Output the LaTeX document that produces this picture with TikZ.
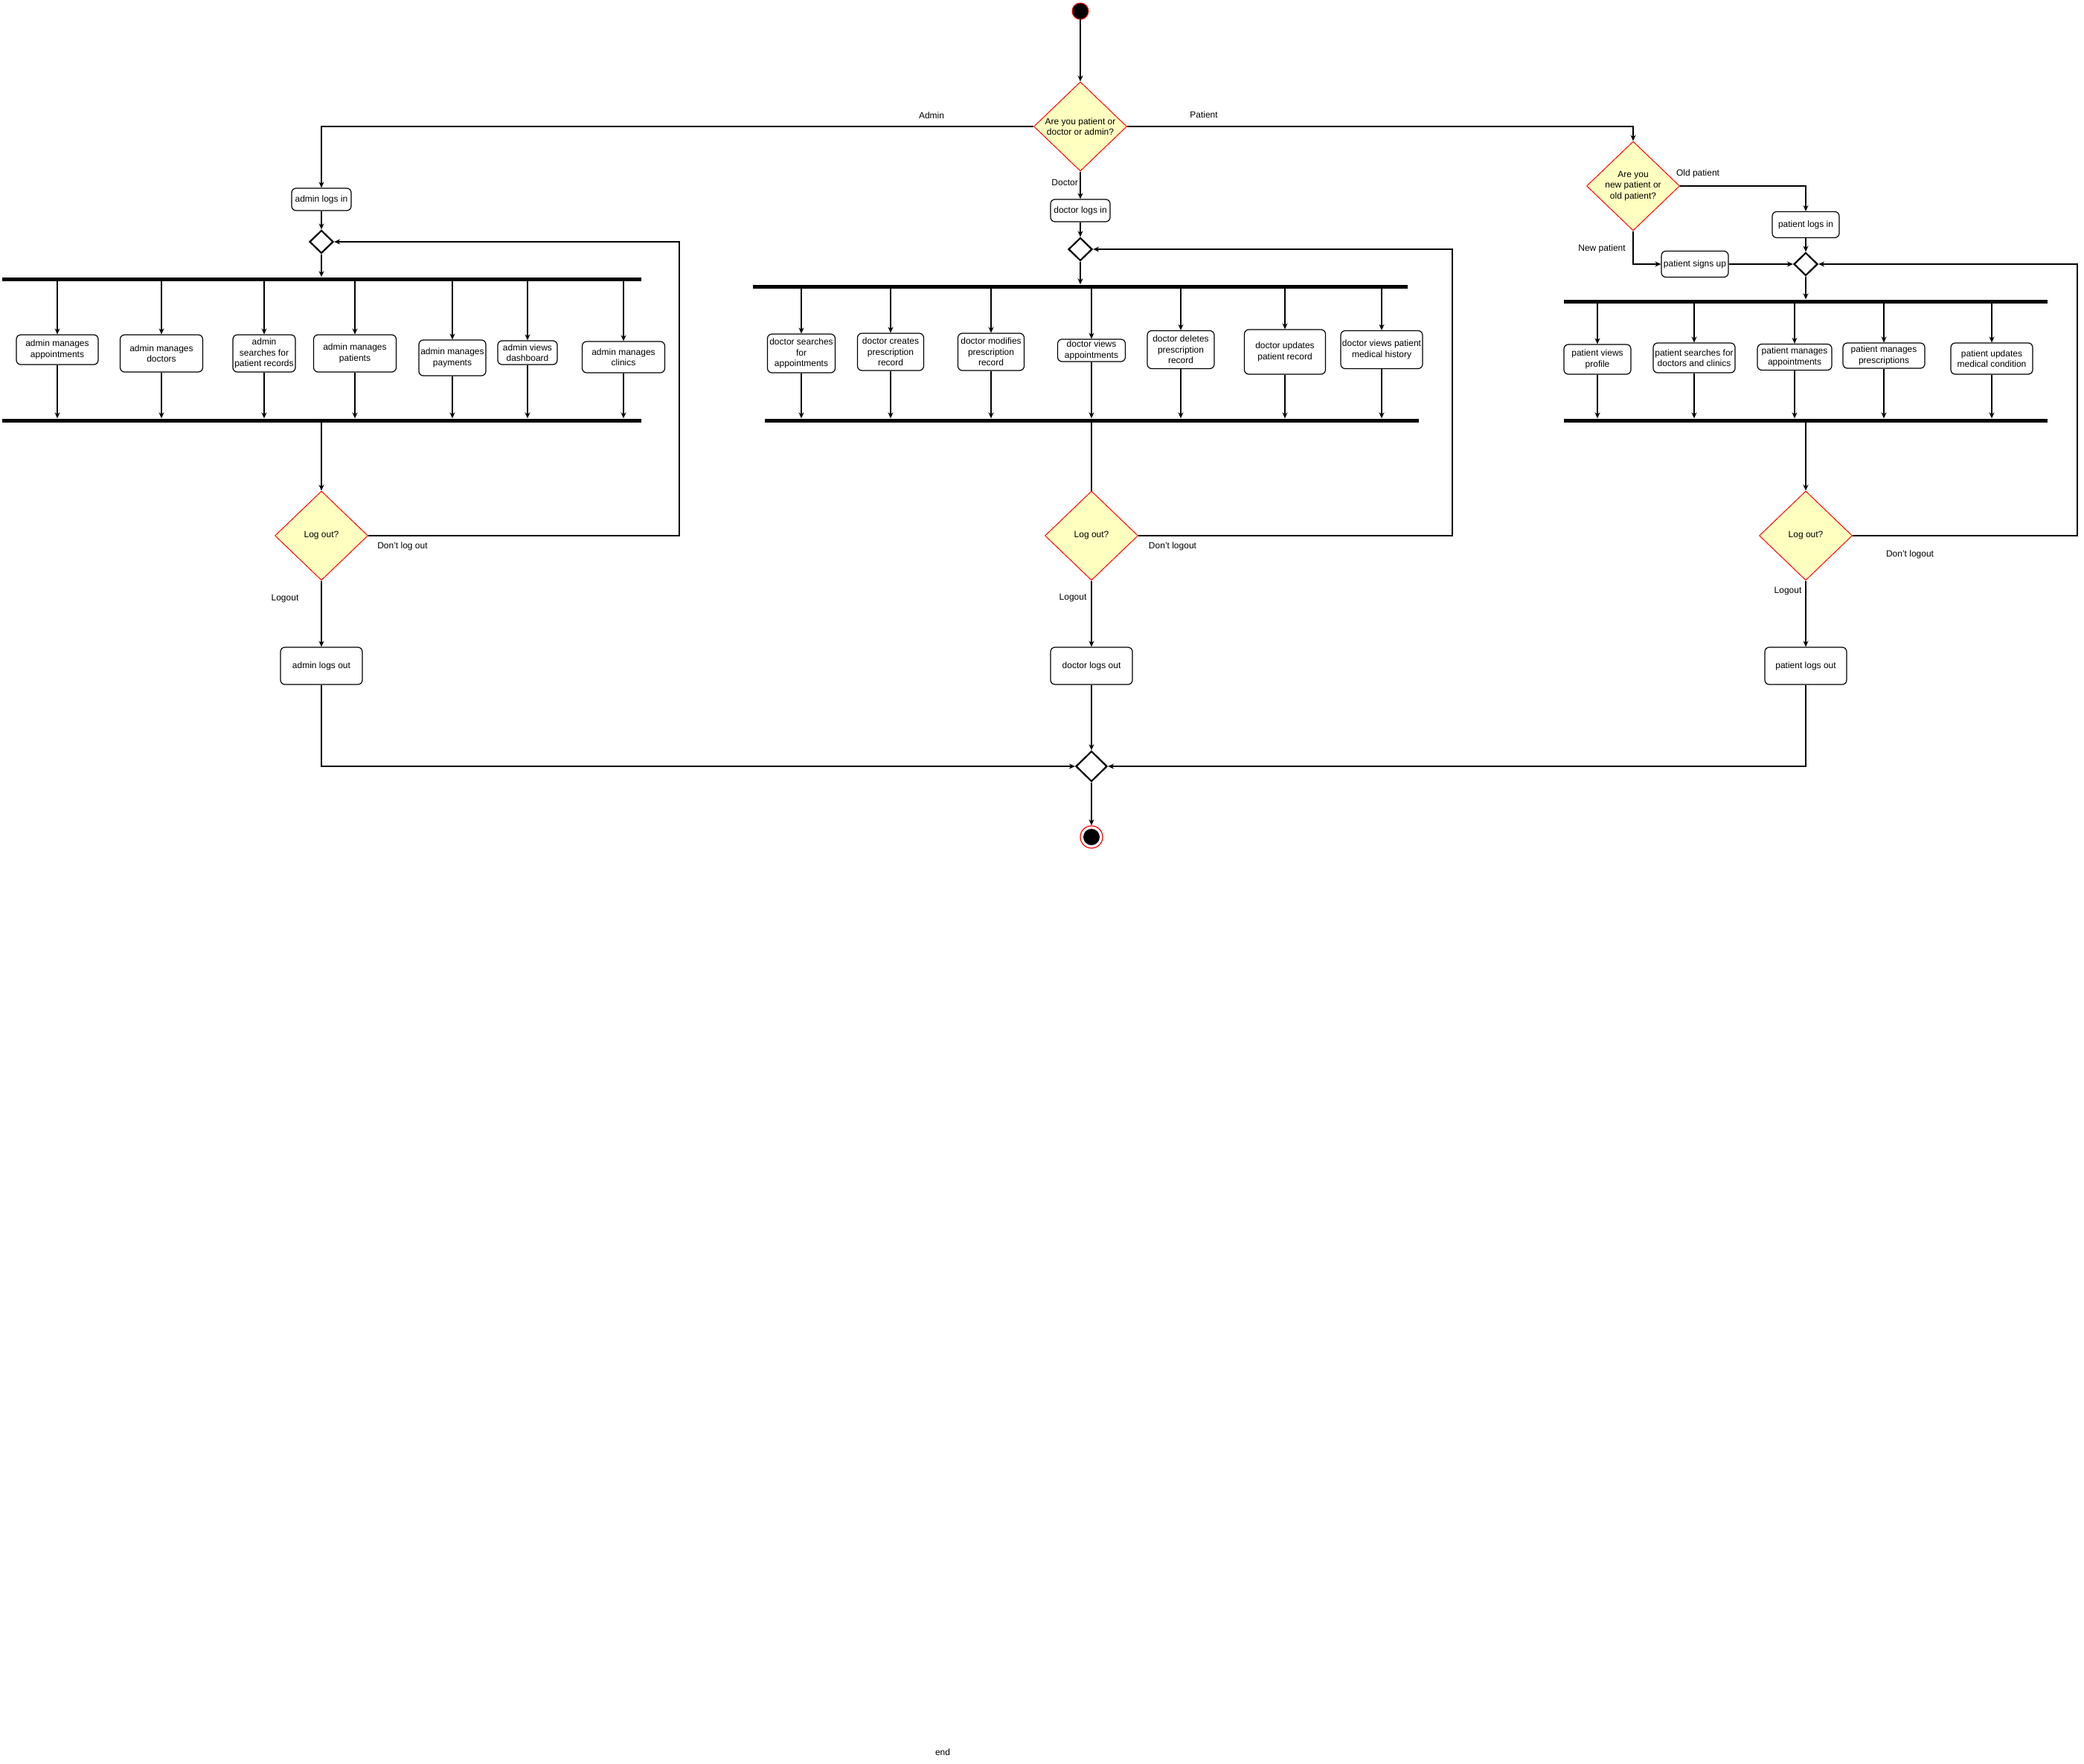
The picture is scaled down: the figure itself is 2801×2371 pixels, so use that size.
\documentclass[tikz,border=0pt]{standalone}
\usepackage{fontspec}
\setmainfont{Liberation Sans}
\usepackage{xcolor}
\usepackage{tikz}
\usetikzlibrary{arrows.meta, positioning, shapes.geometric}

\definecolor{decfill}{HTML}{FFFFC0}
\newcommand{\diagfont}{\fontsize{12}{14.4}\selectfont}

\begin{document}
\begin{tikzpicture}[
        x=1pt, y=-1pt,
        activity/.style={draw, rounded corners=6pt, fill=white, line width=1.2pt, align=center, inner sep=0pt, font=\diagfont},
        decision/.style={diamond, draw=red, fill=decfill, line width=1pt, shape aspect=1.05, align=center, inner sep=0pt, font=\diagfont, minimum width=125pt, minimum height=120pt},
        merge/.style={diamond, draw, line width=2.2pt, fill=white, inner sep=0pt, minimum width=32pt, minimum height=31pt},
        bar/.style={fill=black, inner sep=0pt, minimum height=5pt},
        guard/.style={font=\diagfont, inner sep=0pt},
        arrow/.style={-{Stealth[length=8pt, width=7pt]}, line width=1.3pt},
        line/.style={line width=1.3pt}
    ]
        \useasboundingbox (0,0) rectangle (2801,2371);

        % Start and first choice
        \node[circle, fill=black, draw=red, line width=1pt, minimum size=22pt, inner sep=0pt] (start) at (1452,15) {};
        \node[decision] (choose) at (1452,170) {Are you patient or\\doctor or admin?};
        \draw[arrow] (start) -- (choose);

        % Admin branch
        \node[activity, minimum width=80pt, minimum height=30pt] (aLogin) at (432,268) {admin logs in};
        \node[merge] (aMerge) at (432,325) {};
        \node[bar, minimum width=859pt] (aFork) at (432.5,375) {};
        \node[bar, minimum width=859pt] (aJoin) at (432.5,565) {};
        \node[activity, minimum width=110pt, minimum height=40pt] (aApp) at (77,470) {admin manages\\appointments};
        \node[activity, minimum width=111pt, minimum height=50pt] (aDoc) at (217,475) {admin manages\\doctors};
        \node[activity, minimum width=84pt, minimum height=50pt] (aRec) at (355,475) {admin\\searches for\\patient records};
        \node[activity, minimum width=111pt, minimum height=50pt] (aPat) at (477,475) {admin manages\\patients};
        \node[activity, minimum width=90pt, minimum height=48pt] (aPay) at (608,481) {admin manages\\payments};
        \node[activity, minimum width=80pt, minimum height=32pt] (aDash) at (709,474) {admin views\\dashboard};
        \node[activity, minimum width=111pt, minimum height=42pt] (aCli) at (838,480) {admin manages\\clinics};
        \node[decision] (aLogq) at (432,720) {Log out?};
        \node[activity, minimum width=110pt, minimum height=50pt] (aOut) at (432,895) {admin logs out};
        \coordinate (aLoop) at (913,720);

        \draw[arrow] (choose.west) -| (aLogin);
        \node[guard] (lblAdmin) at (1252,155) {Admin};
        \draw[arrow] (aLogin) -- (aMerge);
        \draw[arrow] (aMerge) -- (aMerge |- aFork.north);
        \foreach \n in {aApp, aDoc, aRec, aPat, aPay, aDash, aCli} {
            \draw[arrow] (\n |- aFork.south) -- (\n);
            \draw[arrow] (\n) -- (\n |- aJoin.north);
        }
        \draw[arrow] (aLogq |- aJoin.south) -- (aLogq);
        \draw[arrow] (aLogq.east) -- (aLoop) |- (aMerge.east);
        \node[guard] (lblANo) at (541,734) {Don't log out};
        \draw[arrow] (aLogq) -- (aOut);
        \node[guard] (lblAYes) at (383,805) {Logout};

        % Doctor branch
        \node[activity, minimum width=80pt, minimum height=30pt] (dLogin) at (1452,283) {doctor logs in};
        \node[merge] (dMerge) at (1452,335) {};
        \node[bar, minimum width=880pt] (dFork) at (1452,385) {};
        \node[bar, minimum width=879pt] (dJoin) at (1467.5,565) {};
        \node[activity, minimum width=91pt, minimum height=52pt] (dSearch) at (1077,475) {doctor searches\\for\\appointments};
        \node[activity, minimum width=89pt, minimum height=50pt] (dCreate) at (1197,473) {doctor creates\\prescription\\record};
        \node[activity, minimum width=89pt, minimum height=50pt] (dModify) at (1332,473) {doctor modifies\\prescription\\record};
        \node[activity, minimum width=91pt, minimum height=30pt] (dViews) at (1467,471) {doctor views\\appointments};
        \node[activity, minimum width=90pt, minimum height=51pt] (dDelete) at (1587,470) {doctor deletes\\prescription\\record};
        \node[activity, minimum width=109pt, minimum height=60pt] (dUpdate) at (1727,473) {doctor updates\\patient record};
        \node[activity, minimum width=110pt, minimum height=51pt] (dHist) at (1857,470) {doctor views patient\\medical history};
        \node[decision] (dLogq) at (1467,720) {Log out?};
        \node[activity, minimum width=110pt, minimum height=50pt] (dOut) at (1467,895) {doctor logs out};
        \coordinate (dLoop) at (1952,720);

        \draw[arrow] (choose) -- (dLogin);
        \node[guard, anchor=east] (lblDoctor) at (1449,245) {Doctor};
        \draw[arrow] (dLogin) -- (dMerge);
        \draw[arrow] (dMerge) -- (dMerge |- dFork.north);
        \foreach \n in {dSearch, dCreate, dModify, dViews, dDelete, dUpdate, dHist} {
            \draw[arrow] (\n |- dFork.south) -- (\n);
            \draw[arrow] (\n) -- (\n |- dJoin.north);
        }
        \draw[line] (dLogq |- dJoin.south) -- (dLogq.north);
        \draw[arrow] (dLogq.east) -- (dLoop) |- (dMerge.east);
        \node[guard] (lblDNo) at (1576,734) {Don't logout};
        \draw[arrow] (dLogq) -- (dOut);
        \node[guard] (lblDYes) at (1442,804) {Logout};

        % Patient branch
        \node[decision, shape aspect=1.16] (pChoose) at (2195,250) {Are you\\new patient or\\old patient?};
        \node[activity, minimum width=90pt, minimum height=35pt] (pLogin) at (2427,302) {patient logs in};
        \node[activity, minimum width=90pt, minimum height=35pt] (pSignup) at (2278,355) {patient signs up};
        \node[merge] (pMerge) at (2427,355) {};
        \node[bar, minimum width=650pt] (pFork) at (2427,405) {};
        \node[bar, minimum width=650pt] (pJoin) at (2427,565) {};
        \node[activity, minimum width=90pt, minimum height=40pt] (pProf) at (2147,483) {patient views\\profile};
        \node[activity, minimum width=110pt, minimum height=40pt] (pSearch) at (2277,481) {patient searches for\\doctors and clinics};
        \node[activity, minimum width=100pt, minimum height=35pt] (pAppt) at (2412,480) {patient manages\\appointments};
        \node[activity, minimum width=110pt, minimum height=34pt] (pPresc) at (2532,478) {patient manages\\prescriptions};
        \node[activity, minimum width=110pt, minimum height=42pt] (pCond) at (2677,482) {patient updates\\medical condition};
        \node[decision] (pLogq) at (2427,720) {Log out?};
        \node[activity, minimum width=110pt, minimum height=50pt] (pOut) at (2427,895) {patient logs out};
        \coordinate (pLoop) at (2792,720);

        \draw[arrow] (choose.east) -| (pChoose.north);
        \node[guard] (lblPatient) at (1618,154) {Patient};
        \draw[arrow] (pChoose.east) -| (pLogin.north);
        \node[guard] (lblOld) at (2282,233) {Old patient};
        \draw[arrow] (pChoose.south) |- (pSignup.west);
        \node[guard] (lblNew) at (2153,334) {New patient};
        \draw[arrow] (pLogin) -- (pMerge);
        \draw[arrow] (pSignup) -- (pMerge);
        \draw[arrow] (pMerge) -- (pMerge |- pFork.north);
        \foreach \n in {pProf, pSearch, pAppt, pPresc, pCond} {
            \draw[arrow] (\n |- pFork.south) -- (\n);
            \draw[arrow] (\n) -- (\n |- pJoin.north);
        }
        \draw[arrow] (pLogq |- pJoin.south) -- (pLogq);
        \draw[arrow] (pLogq.east) -- (pLoop) |- (pMerge.east);
        \node[guard] (lblPNo) at (2567,745) {Don't logout};
        \draw[arrow] (pLogq) -- (pOut);
        \node[guard] (lblPYes) at (2403,795) {Logout};

        % End
        \node[merge, minimum width=42pt, minimum height=41pt] (endMerge) at (1467,1030) {};
        \node[circle, draw=red, line width=1.2pt, fill=white, minimum size=30pt, inner sep=0pt,
              path picture={\fill[black] (path picture bounding box.center) circle (11pt);}] (final) at (1467,1125) {};
        \draw[arrow] (aOut.south) |- (endMerge.west);
        \draw[arrow] (dOut) -- (endMerge);
        \draw[arrow] (pOut.south) |- (endMerge.east);
        \draw[arrow] (endMerge) -- (final);
        \node[guard] (endLbl) at (1267,2355) {end};
    \end{tikzpicture}
\end{document}
